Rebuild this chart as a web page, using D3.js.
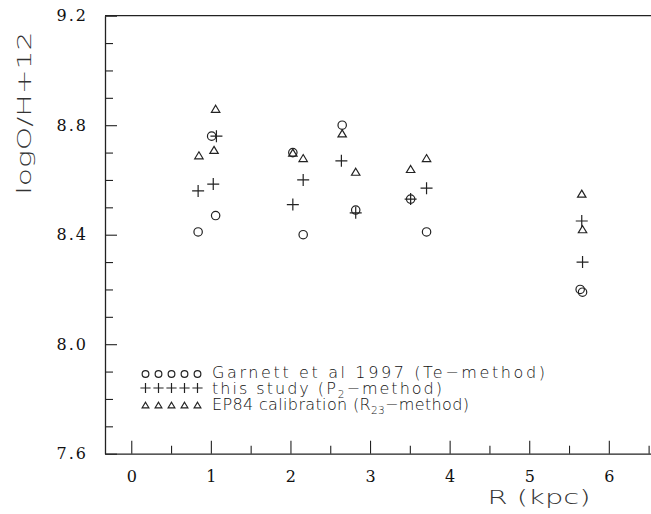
<!DOCTYPE html>
<html><head><meta charset="utf-8">
<script src="https://cdn.jsdelivr.net/npm/d3@7"></script>
<style>body{margin:0;background:#fff;} svg{display:block;}</style>
</head><body>
<script>
// ---- data ----
const garnettR  = [0.84, 1.01, 1.06, 2.03, 2.16, 2.65, 2.82, 3.51, 3.71, 5.64, 5.67];
const garnettOH = [8.41, 8.76, 8.47, 8.70, 8.40, 8.80, 8.49, 8.53, 8.41, 8.20, 8.19];
const studyR    = [0.84, 1.03, 1.07, 2.03, 2.16, 2.64, 2.82, 3.51, 3.71, 5.66, 5.67];
const studyOH   = [8.56, 8.585, 8.76, 8.51, 8.60, 8.67, 8.48, 8.53, 8.57, 8.45, 8.30];
const ep84R     = [0.85, 1.04, 1.06, 2.03, 2.16, 2.65, 2.82, 3.51, 3.71, 5.66, 5.67];
const ep84OH    = [8.69, 8.71, 8.86, 8.70, 8.68, 8.77, 8.63, 8.64, 8.68, 8.55, 8.42];
const xMajorTicks = [0, 1, 2, 3, 4, 5, 6];
const xMinorTicks = [0.5, 1.5, 2.5, 3.5, 4.5, 5.5, 6.5];
const yMajorTicks = [7.6, 8.0, 8.4, 8.8, 9.2];
const yMinorTicks = [7.7, 7.8, 7.9, 8.1, 8.2, 8.3, 8.5, 8.6, 8.7, 8.9, 9.0, 9.1];
const xTitle = "R  (kpc)";
const yTitle = "logO/H+12";
const legendSeries = ["circle", "plus", "triangle"];
const legendText = [
  [{t: "Garnett et al 1997 (Te\u2212method)"}],
  [{t: "this study (P"}, {t: "2", sub: true}, {t: "\u2212method)"}],
  [{t: "EP84 calibration (R"}, {t: "23", sub: true}, {t: "\u2212method)"}]
];

// ---- layout ----
const W = 651, H = 514;
const svg = d3.select("body").append("svg").attr("width", W).attr("height", H);
const x = d3.scaleLinear().domain([-0.33, 6.53]).range([105, 651]);
const y = d3.scaleLinear().domain([7.6, 9.2]).range([453.7, 15.7]);
const ink = "#222";
const sans = "'DejaVu Sans', sans-serif";

// frame
svg.append("line").attr("x1", x.range()[0]).attr("x2", x.range()[1])
  .attr("y1", y(9.2)).attr("y2", y(9.2)).attr("stroke", ink).attr("stroke-width", 1.3);

// axes
const tickFont = "'DejaVu Serif', serif";
const gy = svg.append("g").attr("transform", `translate(${x(-0.33)},0)`)
  .call(d3.axisLeft(y).tickValues(yMajorTicks).tickSize(-12).tickSizeOuter(0)
        .tickPadding(19).tickFormat(d3.format(".1f")));
svg.append("g").attr("transform", `translate(${x(-0.33)},0)`)
  .call(d3.axisLeft(y).tickValues(yMinorTicks).tickSize(-8).tickSizeOuter(0).tickFormat(""))
  .select(".domain").remove();
const gx = svg.append("g").attr("transform", `translate(0,${y(7.6)})`)
  .call(d3.axisBottom(x).tickValues(xMajorTicks).tickSize(-13).tickSizeOuter(0)
        .tickPadding(17).tickFormat(d3.format("d")));
svg.append("g").attr("transform", `translate(0,${y(7.6)})`)
  .call(d3.axisBottom(x).tickValues(xMinorTicks).tickSize(-8).tickSizeOuter(0).tickFormat(""))
  .select(".domain").remove();
svg.selectAll(".domain").attr("stroke", ink).attr("stroke-width", 1.3);
svg.selectAll(".tick line").attr("stroke", ink).attr("stroke-width", 1.1);
svg.selectAll(".tick text").attr("font-family", tickFont).attr("font-size", 16)
  .attr("fill", "#111").attr("letter-spacing", "2px");
gy.selectAll(".tick text").attr("dx", "2px");
gx.selectAll(".tick text").attr("dx", "1px");

// titles
svg.append("text").attr("x", 539).attr("y", 504).attr("text-anchor", "middle")
  .attr("font-family", sans).attr("font-weight", 200).attr("font-size", 20).attr("fill", "#333")
  .attr("textLength", 103).attr("lengthAdjust", "spacingAndGlyphs").text(xTitle);
svg.append("text").attr("transform", "translate(31,113) rotate(-90)").attr("text-anchor", "middle")
  .attr("font-family", sans).attr("font-weight", 200).attr("font-size", 20).attr("fill", "#333")
  .attr("textLength", 163).attr("lengthAdjust", "spacingAndGlyphs").text(yTitle);

// markers
function drawMarker(g, type, cx, cy, s) {
  if (type === "circle") {
    g.append("circle").attr("cx", cx).attr("cy", cy).attr("r", 4.2 * s)
      .attr("fill", "none").attr("stroke", ink).attr("stroke-width", 1.2);
  } else if (type === "plus") {
    const a = 6 * s;
    g.append("path").attr("d", `M${cx - a},${cy}H${cx + a}M${cx},${cy - a}V${cy + a}`)
      .attr("fill", "none").attr("stroke", ink).attr("stroke-width", 1.2);
  } else {
    const w = 4.2 * s, h = 3.5 * s;
    g.append("path").attr("d", `M${cx},${cy - h}L${cx + w},${cy + h}L${cx - w},${cy + h}Z`)
      .attr("fill", "none").attr("stroke", ink).attr("stroke-width", 1.2);
  }
}
const pts = svg.append("g");
garnettR.forEach((r, i) => drawMarker(pts, "circle", x(r), y(garnettOH[i]), 1));
studyR.forEach((r, i) => drawMarker(pts, "plus", x(r), y(studyOH[i]), 1));
ep84R.forEach((r, i) => drawMarker(pts, "triangle", x(r), y(ep84OH[i]), 1));

// legend
const lg = svg.append("g");
const rowBase = [378, 394, 410];
const rowMark = [374, 388, 405];
const textLens = [333, 230, 257];
legendSeries.forEach((type, i) => {
  for (let k = 0; k < 5; k++) {
    const sc = type === "circle" ? 0.8 : type === "plus" ? 0.85 : 0.8;
    drawMarker(lg, type, 145.5 + k * 13, rowMark[i], sc);
  }
  const t = lg.append("text").attr("x", 212).attr("y", rowBase[i])
    .attr("font-family", sans).attr("font-weight", 200).attr("font-size", 16).attr("fill", "#111")
    .attr("textLength", textLens[i]).attr("lengthAdjust", "spacing");
  legendText[i].forEach((seg, j) => {
    const ts = t.append("tspan").text(seg.t);
    if (seg.sub) ts.attr("font-size", 10.5).attr("dy", 4);
    else if (j > 0) ts.attr("dy", -4);
  });
});
</script>
</body></html>
